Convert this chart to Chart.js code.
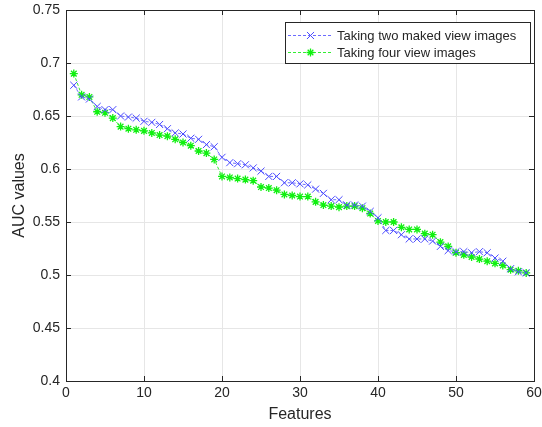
<!DOCTYPE html>
<html>
<head>
<meta charset="utf-8">
<script src="https://cdn.jsdelivr.net/npm/chart.js@4/dist/chart.umd.min.js"></script>
<style>
  html, body { margin: 0; padding: 0; background: #fff; }
  #wrap { width: 542px; height: 427px; }
</style>
</head>
<body>
<div id="wrap"><canvas id="c" width="542" height="427"></canvas></div>
<script>
const features = [1,2,3,4,5,6,7,8,9,10,11,12,13,14,15,16,17,18,19,20,21,22,23,24,25,26,27,28,29,30,31,32,33,34,35,36,37,38,39,40,41,42,43,44,45,46,47,48,49,50,51,52,53,54,55,56,57,58,59];
const twoMakedView = [0.679,0.668,0.666,0.659,0.656,0.656,0.650,0.649,0.648,0.645,0.644,0.642,0.638,0.634,0.633,0.629,0.628,0.623,0.621,0.611,0.606,0.605,0.604,0.601,0.598,0.593,0.593,0.587,0.587,0.586,0.585,0.581,0.577,0.571,0.571,0.566,0.566,0.565,0.560,0.554,0.542,0.542,0.538,0.534,0.534,0.534,0.532,0.527,0.523,0.522,0.522,0.521,0.522,0.521,0.516,0.513,0.506,0.503,0.502];
const fourView = [0.690,0.670,0.668,0.654,0.653,0.648,0.640,0.638,0.637,0.636,0.634,0.632,0.631,0.628,0.625,0.622,0.617,0.615,0.609,0.593,0.592,0.591,0.590,0.589,0.583,0.582,0.580,0.576,0.575,0.574,0.574,0.569,0.566,0.565,0.564,0.565,0.565,0.563,0.558,0.551,0.550,0.550,0.545,0.543,0.543,0.539,0.538,0.531,0.527,0.521,0.519,0.517,0.515,0.513,0.511,0.509,0.505,0.504,0.502];
const seriesNames = ['Taking two maked view images', 'Taking four view images'];
const xTicks = [0,10,20,30,40,50,60];
const yTicks = [0.4,0.45,0.5,0.55,0.6,0.65,0.7,0.75];

const TXT = '#262626';
const FONT = 'Liberation Sans, Arial, Helvetica, sans-serif';
const BLUE_LINE = '#6b6bff', BLUE_MARK = '#4a4aff';
const GREEN_LINE = '#33ee33', GREEN_MARK = '#10f010';

const framePlugin = {
  id: 'frame',
  afterDraw(chart) {
    const {ctx, chartArea: a, scales} = chart;
    ctx.save();
    ctx.strokeStyle = TXT;
    ctx.lineWidth = 1;
    ctx.strokeRect(Math.round(a.left)+0.5, Math.round(a.top)+0.5, Math.round(a.right-a.left), Math.round(a.bottom-a.top));
    ctx.beginPath();
    const tl = 5;
    xTicks.forEach(v => {
      const x = Math.round(scales.x.getPixelForValue(v)) + 0.5;
      ctx.moveTo(x, a.bottom); ctx.lineTo(x, a.bottom - tl);
      ctx.moveTo(x, a.top); ctx.lineTo(x, a.top + tl);
    });
    yTicks.forEach(v => {
      const y = Math.round(scales.y.getPixelForValue(v)) + 0.5;
      ctx.moveTo(a.left, y); ctx.lineTo(a.left + tl, y);
      ctx.moveTo(a.right, y); ctx.lineTo(a.right - tl, y);
    });
    ctx.stroke();

    // legend
    const bx = 285.5, by = 22.5, bw = 245, bh = 41;
    ctx.fillStyle = '#fff';
    ctx.fillRect(bx, by, bw, bh);
    ctx.strokeStyle = TXT;
    ctx.strokeRect(bx, by, bw, bh);
    const rows = [35.5, 52.5];
    const lineCols = [BLUE_LINE, GREEN_LINE];
    const markCols = [BLUE_MARK, GREEN_MARK];
    chart.data.datasets.forEach((ds, i) => {
      const y = rows[i];
      ctx.save();
      ctx.strokeStyle = lineCols[i];
      ctx.lineWidth = 1;
      ctx.setLineDash([3, 2]);
      ctx.beginPath();
      ctx.moveTo(288, y); ctx.lineTo(333, y);
      ctx.stroke();
      ctx.restore();
      ctx.save();
      ctx.setLineDash([]);
      ctx.strokeStyle = markCols[i];
      ctx.fillStyle = markCols[i];
      ctx.lineWidth = ds.pointBorderWidth;
      Chart.helpers.drawPoint(ctx, {pointStyle: ds.pointStyle, radius: ds.pointRadius, rotation: 0, borderWidth: ds.pointBorderWidth}, 310.5, y);
      ctx.restore();
      ctx.fillStyle = TXT;
      ctx.font = '13px ' + FONT;
      ctx.textBaseline = 'middle';
      ctx.textAlign = 'left';
      ctx.fillText(ds.label, 337, y + 0.5);
    });
    ctx.restore();
  }
};

const toPts = arr => features.map((f, i) => ({x: f, y: arr[i]}));

new Chart(document.getElementById('c'), {
  type: 'line',
  data: {
    datasets: [
      {
        label: seriesNames[0],
        data: toPts(twoMakedView),
        borderColor: BLUE_LINE,
        borderWidth: 1,
        borderDash: [3, 2],
        pointStyle: 'crossRot',
        pointRadius: 5,
        pointBorderWidth: 1,
        pointBorderColor: BLUE_MARK,
        pointBackgroundColor: BLUE_MARK,
        tension: 0
      },
      {
        label: seriesNames[1],
        data: toPts(fourView),
        borderColor: GREEN_LINE,
        borderWidth: 1,
        borderDash: [3, 2],
        pointStyle: 'star',
        pointRadius: 4,
        pointBorderWidth: 1.3,
        pointBorderColor: GREEN_MARK,
        pointBackgroundColor: GREEN_MARK,
        tension: 0
      }
    ]
  },
  options: {
    responsive: false,
    animation: false,
    layout: { padding: { top: 10, right: 8, left: 0, bottom: 0 } },
    plugins: { legend: { display: false }, tooltip: { enabled: false } },
    scales: {
      x: {
        type: 'linear', min: 0, max: 60,
        afterBuildTicks: s => { s.ticks = xTicks.map(v => ({value: v})); },
        afterFit: s => { s.height = 46; s.paddingLeft = 0; s.paddingRight = 0; },
        grid: { color: '#e6e6e6', drawTicks: false, lineWidth: 1 },
        border: { display: false },
        ticks: { color: TXT, font: { family: FONT, size: 14 }, padding: 4, maxRotation: 0 },
        title: { display: true, text: 'Features', color: TXT, font: { family: FONT, size: 16 }, padding: { top: 0, bottom: 3 } }
      },
      y: {
        type: 'linear', min: 0.4, max: 0.75,
        afterBuildTicks: s => { s.ticks = yTicks.map(v => ({value: v})); },
        afterFit: s => { s.width = 66; s.paddingTop = 0; s.paddingBottom = 0; },
        grid: { color: '#e6e6e6', drawTicks: false, lineWidth: 1 },
        border: { display: false },
        ticks: { color: TXT, font: { family: FONT, size: 14 }, padding: 6, callback: v => String(+v.toFixed(2)) },
        title: { display: true, text: 'AUC values', color: TXT, font: { family: FONT, size: 16 }, padding: { top: 10, bottom: 0 } }
      }
    }
  },
  plugins: [framePlugin]
});
</script>
</body>
</html>
